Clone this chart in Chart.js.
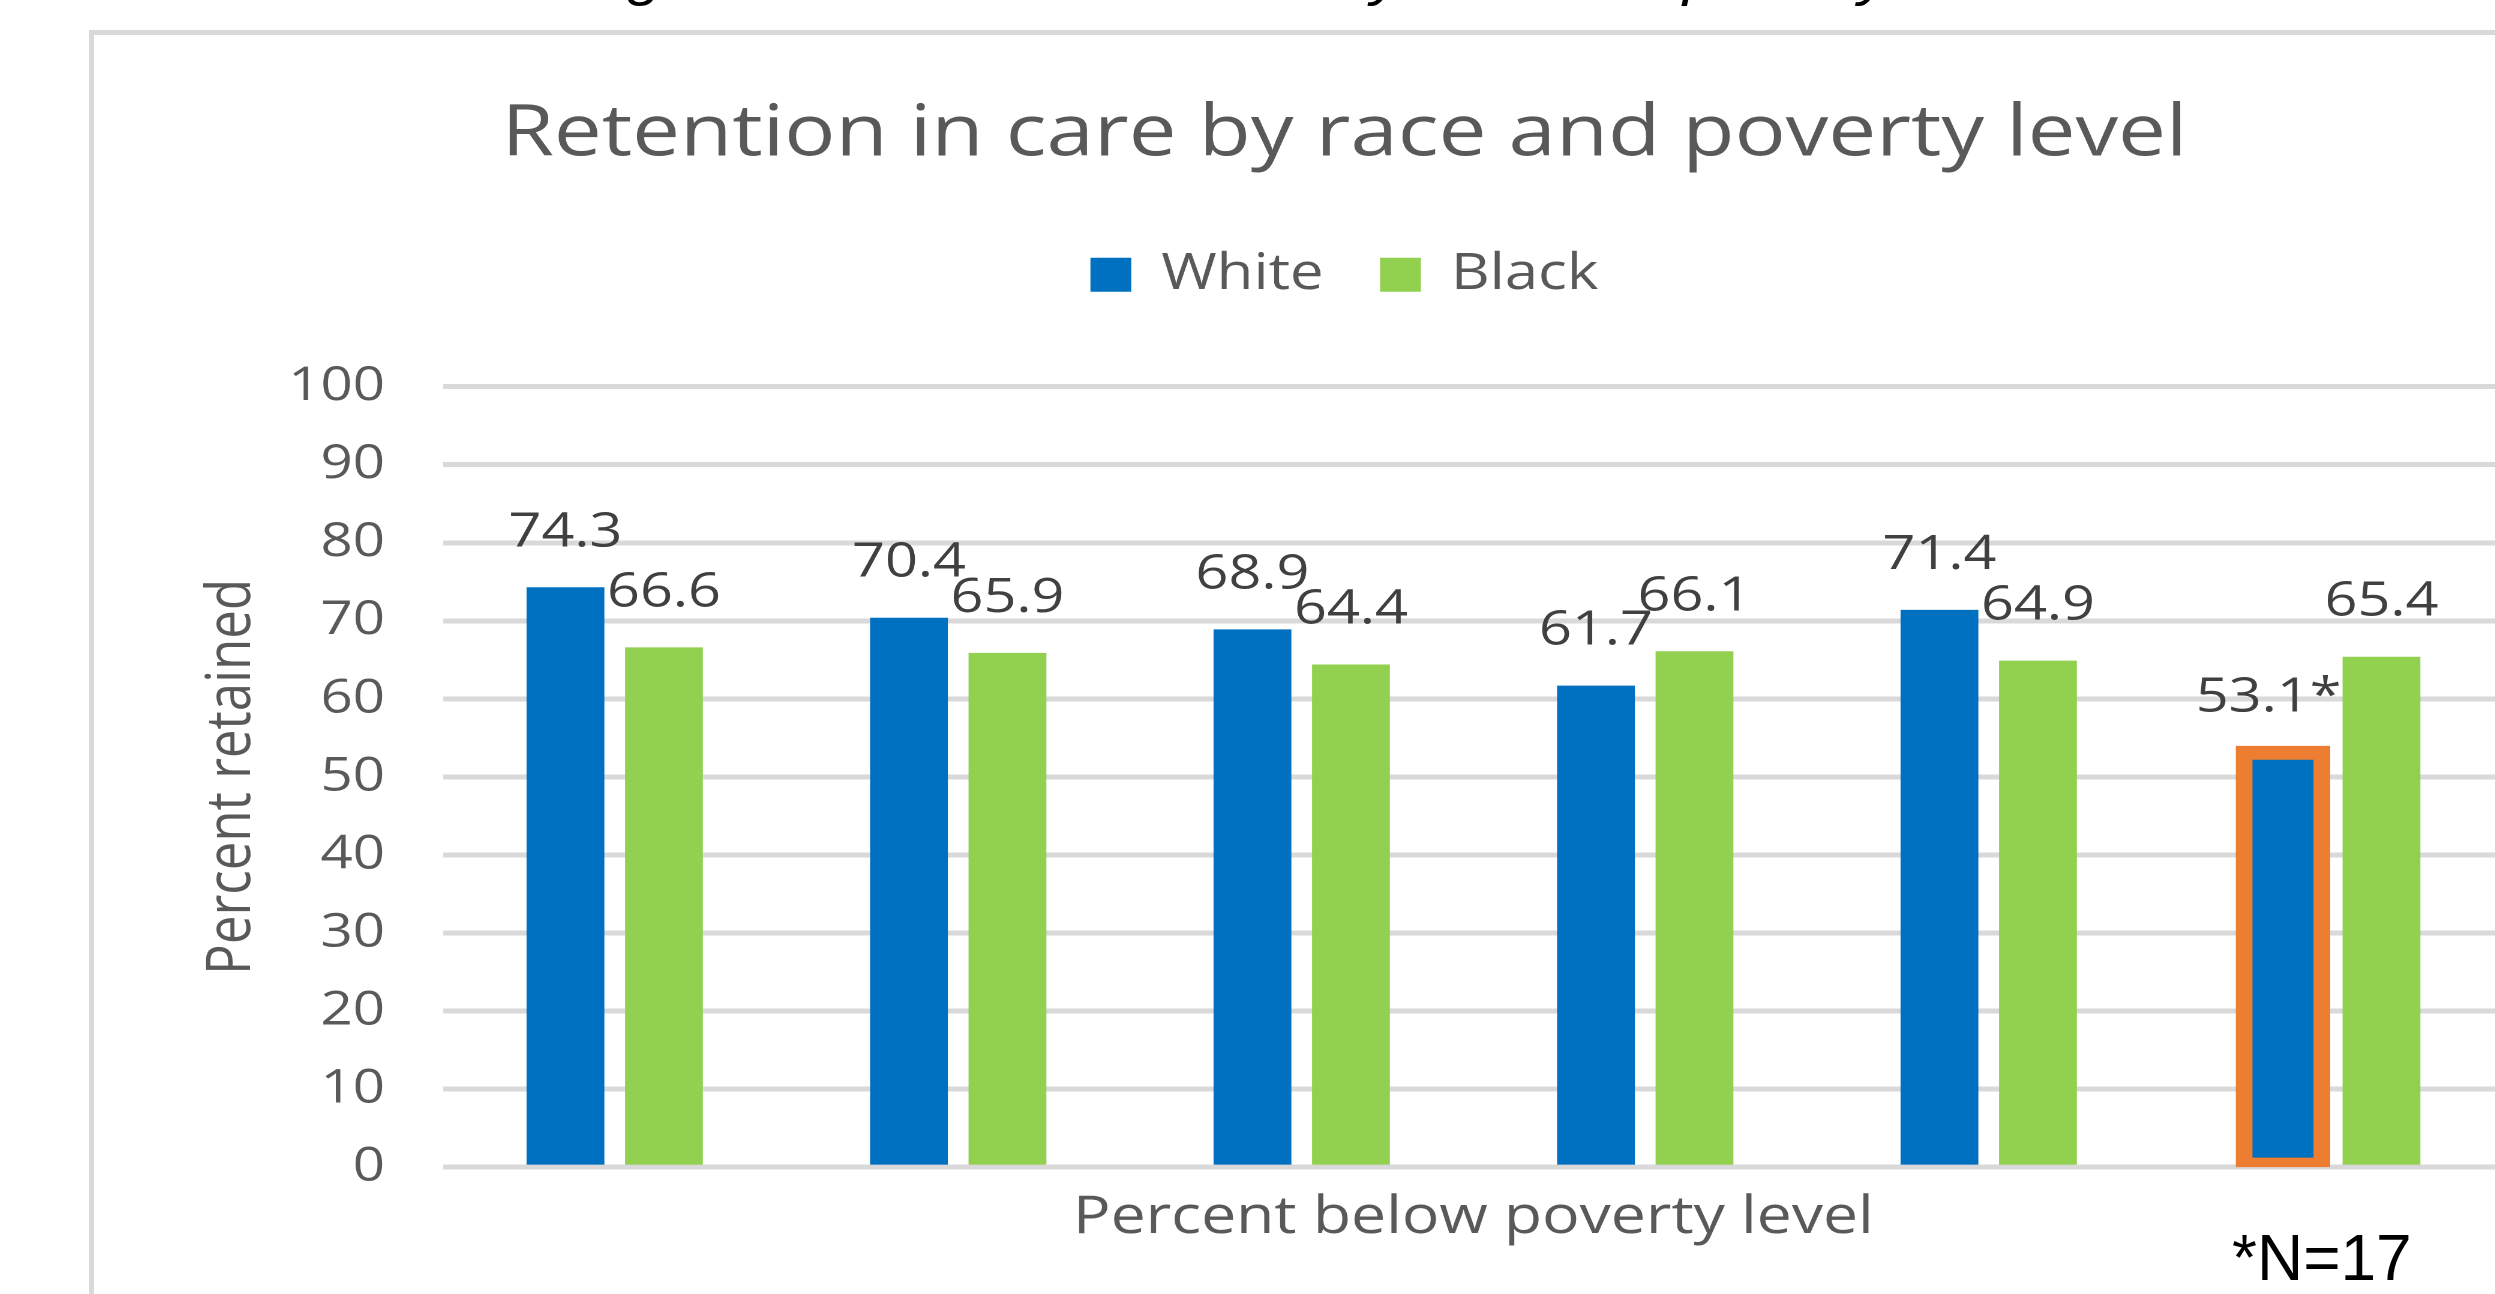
<!DOCTYPE html>
<html>
<head>
<meta charset="utf-8">
<title>Retention in care by race and poverty level</title>
<script src="https://cdn.jsdelivr.net/npm/chart.js@4.4.1/dist/chart.umd.min.js"></script>
<style>
  html, body { margin: 0; padding: 0; background: #fff; width: 2495px; height: 1294px; overflow: hidden; position: relative; }
  #caption { position: absolute; left: 0; top: -53px; white-space: nowrap; color: #000;
             font: italic 56px/56px 'Liberation Sans', Arial, sans-serif; transform-origin: 0 0; }
  #frame { position: absolute; left: 89px; top: 30px; width: 2600px; height: 1400px;
           border-left: 5px solid #d9d9d9; border-top: 5px solid #d9d9d9; }
  /* the source picture is stretched sideways, so the chart is too */
  #chart { position: absolute; left: 94px; top: 35px; transform: scaleX(1.2); transform-origin: 0 0; }
  #note { position: absolute; left: 2232px; top: 1226px; font: 64px/64px 'Liberation Sans', Arial, sans-serif; color: #000; }
</style>
</head>
<body>
<div id="caption">Figure 3. Retention in care by race and poverty level</div>
<div id="frame"></div>
<canvas id="chart" width="2085" height="1259"></canvas>
<div id="note">*N=17</div>
<script>
// data
const categories = ['1', '2', '3', '4', '5', '6'];
const whiteValues = [74.3, 70.4, 68.9, 61.7, 71.4, 53.1];
const blackValues = [66.6, 65.9, 64.4, 66.1, 64.9, 65.4];
const whiteNotes = ['', '', '', '', '', '*'];   // * = small sample, bar outlined
const yTicks = [0, 10, 20, 30, 40, 50, 60, 70, 80, 90, 100];

const BLUE = '#0070C0', GREEN = '#92D050', ORANGE = '#ED7D31';

// figure caption above the frame, only its descenders show:
// stretch it so the g of "Figure" and the last y land where they are in the picture
function fitCaption() {
  const el = document.getElementById('caption');
  const text = el.textContent;
  const ctx = document.createElement('canvas').getContext('2d');
  ctx.font = "italic 56px 'Liberation Sans', Arial, sans-serif";
  const w = s => ctx.measureText(s).width;
  const gMid = w(text.slice(0, 3)) + w('g') / 2;
  const iy = text.lastIndexOf('y');
  const yMid = w(text.slice(0, iy)) + w('y') / 2;
  const k = (1874 - 680) / (yMid - gMid);
  el.style.left = (680 - k * gMid) + 'px';
  el.style.transform = 'scaleX(' + k + ')';
}

// value labels above the bars
const barLabels = {
  id: 'barLabels',
  afterDatasetsDraw(chart) {
    const ctx = chart.ctx;
    ctx.save();
    ctx.font = "48px 'Open Sans', sans-serif";
    ctx.fillStyle = '#404040';
    ctx.textAlign = 'center';
    ctx.textBaseline = 'alphabetic';
    chart.data.datasets.forEach((ds, i) => {
      chart.getDatasetMeta(i).data.forEach((bar, j) => {
        const note = ds.notes ? ds.notes[j] : '';
        const dx = note ? -12 : 0;
        ctx.fillText(ds.data[j].toFixed(1) + note, bar.x + dx, bar.y - 41);
      });
    });
    ctx.restore();
  }
};

const flagged = c => c.dataIndex !== undefined && whiteNotes[c.dataIndex] !== '';

Chart.defaults.font.family = "'Open Sans', sans-serif";
Chart.defaults.color = '#595959';

new Chart(document.getElementById('chart'), {
  type: 'bar',
  data: {
    labels: categories,
    datasets: [
      {
        label: 'White',
        data: whiteValues,
        notes: whiteNotes,
        backgroundColor: BLUE,
        borderColor: c => flagged(c) ? ORANGE : BLUE,
        borderWidth: c => flagged(c) ? 14 : 0,
        borderSkipped: false,
        inflateAmount: c => flagged(c) ? 7 : 0
      },
      {
        label: 'Black',
        data: blackValues,
        backgroundColor: GREEN,
        borderWidth: 0,
        inflateAmount: 0
      }
    ]
  },
  options: {
    responsive: false,
    devicePixelRatio: 2,
    animation: false,
    categoryPercentage: 0.5735,
    barPercentage: 0.79,
    layout: { padding: { top: 57.5, left: 75.7, right: 76.7, bottom: 44.5 } },
    plugins: {
      title: {
        display: true,
        text: 'Retention in care by race and poverty level',
        color: '#595959',
        font: { size: 71, weight: 'normal', lineHeight: 1.2 },
        padding: { top: 0, bottom: 25 }
      },
      legend: {
        display: true,
        labels: { color: '#595959', font: { size: 50 }, boxWidth: 34, boxHeight: 34, padding: 47 }
      },
      // empty block that keeps the gap between legend and plot
      subtitle: {
        display: true,
        text: '',
        weight: 500,
        font: { size: 10, lineHeight: 1.2 },
        padding: { top: 0, bottom: 65 }
      },
      tooltip: { enabled: false }
    },
    scales: {
      x: {
        grid: { display: false, drawTicks: false },
        border: { display: false },
        ticks: { display: false },
        title: {
          display: true,
          text: 'Percent below poverty level',
          color: '#595959',
          font: { size: 52, lineHeight: 1.2 },
          padding: { top: 20, bottom: 0 }
        }
      },
      y: {
        min: yTicks[0],
        max: yTicks[yTicks.length - 1],
        afterFit: scale => { scale.width = 215.1; },
        ticks: { stepSize: yTicks[1] - yTicks[0], padding: 48.3, color: '#595959', font: { size: 47 } },
        grid: { color: '#d9d9d9', lineWidth: 5, drawTicks: false },
        border: { display: false },
        title: {
          display: true,
          text: 'Percent retained',
          color: '#595959',
          font: { size: 51, lineHeight: 1.2 },
          padding: { top: 9, bottom: 0 }
        }
      }
    }
  },
  plugins: [barLabels]
});

fitCaption();
</script>
</body>
</html>
